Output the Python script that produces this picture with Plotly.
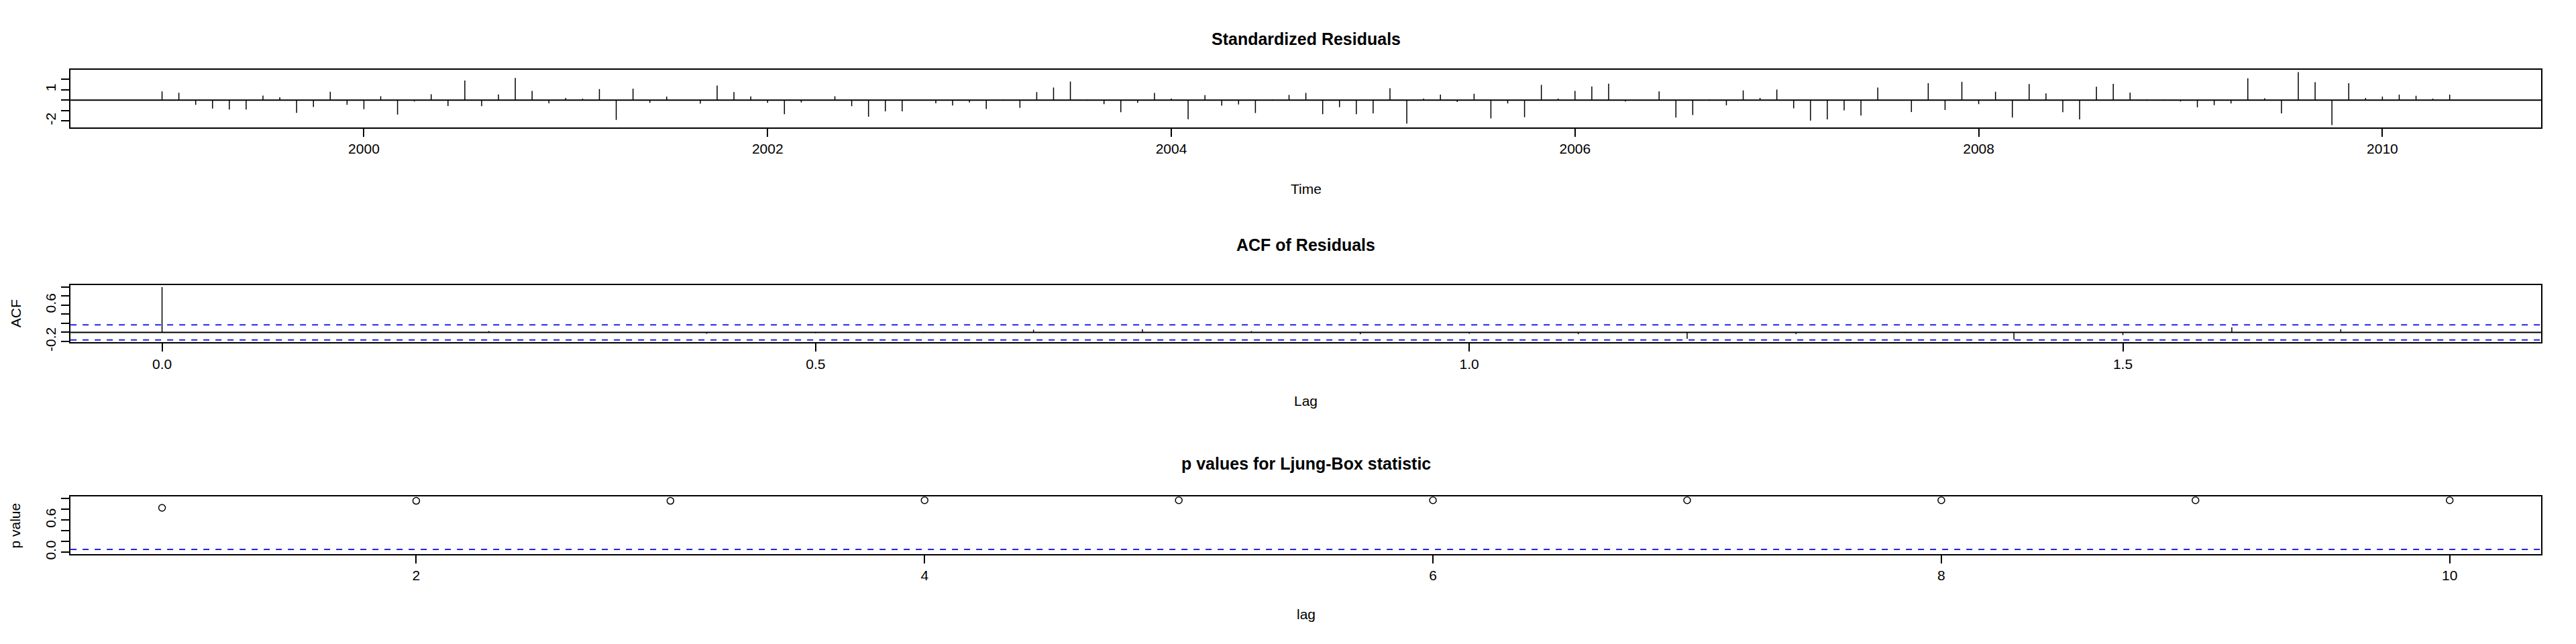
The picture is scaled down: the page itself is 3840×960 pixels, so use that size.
import plotly.graph_objects as go

# ---- data ----
START_YEAR = 1999.0  # monthly, Jan 1999 .. May 2010

resid = [
    0.83, 0.70, -0.45, -0.81, -0.91, -0.91, 0.43, 0.27, -1.22, -0.66, 0.79, -0.45,
    -0.87, 0.37, -1.39, -0.14, 0.56, -0.56, 1.88, -0.58, 0.54, 2.11, 0.87, -0.31,
    0.21, 0.14, 1.06, -1.90, 1.08, -0.27, 0.33, -0.03, -0.35, 1.39, 0.77, 0.35,
    -0.27, -1.35, -0.23, 0.03, 0.37, -0.58, -1.59, -1.08, -1.08, 0.02, -0.31, -0.52,
    -0.23, -0.85, 0.04, -0.75, 0.77, 1.20, 1.78, 0.04, -0.39, -1.16, -0.27, 0.68,
    0.14, -1.84, 0.48, -0.54, -0.43, -1.24, 0.06, 0.50, 0.68, -1.35, -0.68, -1.35,
    -1.28, 1.14, -2.26, 0.14, 0.52, -0.19, 0.60, -1.76, -0.33, -1.64, 1.45, 0.14,
    0.87, 1.30, 1.57, -0.14, 0.00, 0.83, -1.68, -1.43, 0.06, -0.50, 0.93, 0.20,
    1.01, -0.79, -1.97, -1.86, -0.99, -1.49, 1.20, 0.02, -1.14, 1.61, -0.95, 1.74,
    -0.39, 0.79, -1.68, 1.53, 0.64, -1.16, -1.86, 1.28, 1.55, 0.72, 0.06, 0.04,
    -0.14, -0.70, -0.48, -0.33, 2.09, 0.17, -1.28, 2.67, 1.72, -2.40, 1.61, 0.20,
    0.33, 0.52, 0.41, 0.14, 0.52,
]
times = [START_YEAR + i / 12 for i in range(len(resid))]

acf_vals = [1.0, -0.01, 0.01, 0.03, -0.01, -0.03, -0.02, -0.01, 0.06, 0.07, 0.03,
            -0.04, -0.03, -0.04, -0.14, -0.04, -0.01, -0.16, -0.06, 0.11, 0.07, -0.01]
acf_lags = [k / 12 for k in range(len(acf_vals))]
acf_ci = 0.167

lb_lags = list(range(1, 11))
lb_pvals = [0.83, 0.96, 0.96, 0.97, 0.97, 0.97, 0.97, 0.97, 0.97, 0.97]
lb_level = 0.05

FONT = "Liberation Sans Narrow, Liberation Sans, Arial, sans-serif"
BLUE = "#2222ee"


def spikes(xs, ys):
    # R type="h": vertical lines from zero
    px, py = [], []
    for x, y in zip(xs, ys):
        px += [x, x, None]
        py += [0, y, None]
    return px, py


fig = go.Figure()

x1, y1 = spikes(times, resid)
fig.add_trace(go.Scatter(x=x1, y=y1, mode="lines", line=dict(color="black", width=1.5),
                         xaxis="x", yaxis="y", showlegend=False))
x2, y2 = spikes(acf_lags, acf_vals)
fig.add_trace(go.Scatter(x=x2, y=y2, mode="lines", line=dict(color="black", width=1.5),
                         xaxis="x2", yaxis="y2", showlegend=False))
fig.add_trace(go.Scatter(x=lb_lags, y=lb_pvals, mode="markers",
                         marker=dict(symbol="circle-open", size=10, color="black",
                                     line=dict(width=1.5)),
                         xaxis="x3", yaxis="y3", showlegend=False))

XDOM = [0.0253, 0.9844]
axis_common = dict(showline=True, linecolor="black", linewidth=2, mirror=True,
                   ticks="outside", ticklen=12, tickwidth=1.5, tickcolor="black",
                   showgrid=False, zeroline=False,
                   tickfont=dict(family=FONT, size=21, color="black"))

span = times[-1] - times[0]
fig.update_layout(
    width=3840, height=960, margin=dict(l=0, r=0, t=0, b=0),
    plot_bgcolor="white", paper_bgcolor="white",
    xaxis=dict(domain=XDOM, anchor="y", range=[times[0] - 0.04 * span, times[-1] + 0.04 * span],
               tickvals=[2000, 2002, 2004, 2006, 2008, 2010], **axis_common),
    yaxis=dict(domain=[0.808, 0.898], anchor="x", range=[-2.6, 2.87],
               tickvals=[-2, -1, 0, 1, 2], ticktext=["-2", "", "", "1", ""], tickangle=-90,
               **axis_common),
    xaxis2=dict(domain=XDOM, anchor="y2", range=[-0.07, 1.82],
                tickvals=[0, 0.5, 1.0, 1.5], ticktext=["0.0", "0.5", "1.0", "1.5"], **axis_common),
    yaxis2=dict(domain=[0.469, 0.559], anchor="x2", range=[-0.22, 1.04],
                tickvals=[-0.2, 0, 0.2, 0.4, 0.6, 0.8, 1.0],
                ticktext=["-0.2", "", "", "", "0.6", "", ""], tickangle=-90, **axis_common),
    xaxis3=dict(domain=XDOM, anchor="y3", range=[0.64, 10.36],
                tickvals=[2, 4, 6, 8, 10], **axis_common),
    yaxis3=dict(domain=[0.135, 0.226], anchor="x3", range=[-0.04, 1.04],
                tickvals=[0, 0.2, 0.4, 0.6, 0.8, 1.0],
                ticktext=["0.0", "", "", "0.6", "", ""], tickangle=-90, **axis_common),
)

line_black = dict(color="black", width=2)
dash_blue = dict(color=BLUE, width=2, dash="dash")
fig.add_shape(type="line", xref="x domain", yref="y", x0=0, x1=1, y0=0, y1=0, line=line_black)
fig.add_shape(type="line", xref="x2 domain", yref="y2", x0=0, x1=1, y0=0, y1=0, line=line_black)
for c in (acf_ci, -acf_ci):
    fig.add_shape(type="line", xref="x2 domain", yref="y2", x0=0, x1=1, y0=c, y1=c, line=dash_blue)
fig.add_shape(type="line", xref="x3 domain", yref="y3", x0=0, x1=1, y0=lb_level, y1=lb_level,
              line=dash_blue)

xc = (XDOM[0] + XDOM[1]) / 2
titles = [("Standardized Residuals", 51), ("ACF of Residuals", 362),
          ("p values for Ljung-Box statistic", 693)]
for text, ypx in titles:
    fig.add_annotation(text="<b>%s</b>" % text, x=xc, y=1 - ypx / 960, xref="paper", yref="paper",
                       xanchor="center", yanchor="middle", showarrow=False,
                       font=dict(family=FONT, size=25, color="black"))
for text, ypx in [("Time", 278), ("Lag", 598), ("lag", 921)]:
    fig.add_annotation(text=text, x=xc, y=1 - ypx / 960, xref="paper", yref="paper",
                       xanchor="center", yanchor="middle", showarrow=False,
                       font=dict(family=FONT, size=21, color="black"))
for text, ypx in [("ACF", 466), ("p value", 787)]:
    fig.add_annotation(text=text, x=15 / 3840, y=1 - ypx / 960, xref="paper", yref="paper",
                       xanchor="center", yanchor="middle", showarrow=False, textangle=-90,
                       font=dict(family=FONT, size=21, color="black"))

fig.write_html("out.html")
